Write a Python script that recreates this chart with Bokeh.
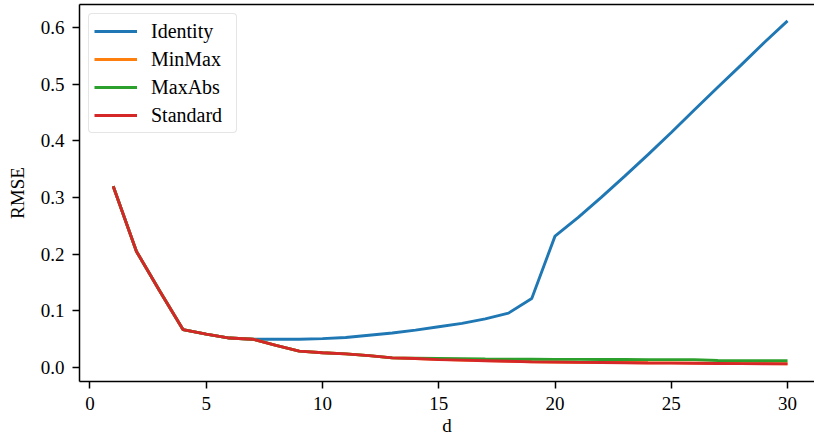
from bokeh.plotting import figure
from bokeh.models import (FixedTicker, LinearAxis, Range1d, Legend, LegendItem,
                          PrintfTickFormatter)
from bokeh.embed import file_html
from bokeh.resources import INLINE

# RMSE per input dimension d for each feature-scaling method
d = list(range(1, 31))
identity = [0.320, 0.205, 0.135, 0.067, 0.059, 0.052, 0.050, 0.050, 0.050, 0.051,
            0.053, 0.057, 0.061, 0.066, 0.072, 0.078, 0.086, 0.096, 0.122, 0.232,
            0.265, 0.301, 0.338, 0.376, 0.415, 0.455, 0.495, 0.534, 0.574, 0.612]
minmax = [0.320, 0.205, 0.135, 0.067, 0.059, 0.052, 0.050, 0.039, 0.029, 0.026,
          0.024, 0.021, 0.017, 0.016, 0.0145, 0.0133, 0.0123, 0.0113, 0.0103, 0.0098,
          0.0093, 0.0091, 0.0088, 0.0083, 0.0081, 0.0078, 0.0075, 0.0071, 0.0069, 0.0067]
maxabs = [0.320, 0.205, 0.135, 0.067, 0.059, 0.052, 0.050, 0.039, 0.029, 0.026,
          0.024, 0.021, 0.017, 0.0165, 0.016, 0.0155, 0.015, 0.0148, 0.0146, 0.0144,
          0.0143, 0.0142, 0.0141, 0.0140, 0.0140, 0.0140, 0.0125, 0.0120, 0.0120, 0.0120]
standard = [0.320, 0.205, 0.135, 0.067, 0.059, 0.052, 0.050, 0.039, 0.029, 0.026,
            0.024, 0.021, 0.017, 0.016, 0.014, 0.013, 0.012, 0.011, 0.010, 0.0095,
            0.009, 0.0088, 0.0085, 0.008, 0.0078, 0.0075, 0.0072, 0.0068, 0.0066, 0.0064]

series = [("Identity", identity, "#1f77b4"),
          ("MinMax", minmax, "#ff7f0e"),
          ("MaxAbs", maxabs, "#2ca02c"),
          ("Standard", standard, "#d62728")]

x_ticks = [0, 5, 10, 15, 20, 25, 30]
y_ticks = [0.0, 0.1, 0.2, 0.3, 0.4, 0.5, 0.6]

FONT = "Liberation Serif"
FS = "19px"
INK = "#000000"

p = figure(width=814, height=438, output_backend="svg", toolbar_location=None,
           x_range=Range1d(-0.45, 31.16), y_range=Range1d(-0.0247, 0.641),
           min_border_left=79, min_border_right=0, min_border_top=4,
           min_border_bottom=57, x_axis_label="d", y_axis_label="RMSE")
p.grid.visible = False
p.outline_line_color = None
p.background_fill_color = "white"
p.border_fill_color = "white"

for ax, ticks in ((p.xaxis[0], x_ticks), (p.yaxis[0], y_ticks)):
    ax.ticker = FixedTicker(ticks=ticks)
    ax.axis_line_width = 1.5
    ax.axis_line_color = INK
    ax.major_tick_line_width = 1.5
    ax.major_tick_line_color = INK
    ax.major_tick_in = 0
    ax.major_tick_out = 7
    ax.minor_tick_line_color = None
    ax.major_label_text_font = FONT
    ax.major_label_text_font_size = FS
    ax.major_label_text_color = INK
    ax.axis_label_text_font = FONT
    ax.axis_label_text_font_size = FS
    ax.axis_label_text_font_style = "normal"
    ax.axis_label_text_color = INK

p.yaxis[0].formatter = PrintfTickFormatter(format="%.1f")
p.xaxis[0].major_label_standoff = 8
p.xaxis[0].axis_label_standoff = 2
p.yaxis[0].major_label_standoff = 8
p.yaxis[0].axis_label_standoff = 10

# top spine only (the right edge of the frame lies outside the page)
top = LinearAxis(ticker=FixedTicker(ticks=[]), axis_line_width=1.5, axis_line_color=INK,
                 major_tick_line_color=None, minor_tick_line_color=None,
                 major_label_text_font_size="0px", major_label_standoff=0,
                 major_tick_out=0, major_tick_in=0)
p.add_layout(top, "above")

items = []
for name, ys, color in series:
    r = p.line(d, ys, line_color=color, line_width=2.9)
    items.append(LegendItem(label=name, renderers=[r]))

legend = Legend(items=items, location="top_left", margin=9, padding=5, spacing=4,
                glyph_width=43, glyph_height=24, label_height=24, label_width=80,
                label_standoff=14, label_text_font=FONT, label_text_font_size="20px",
                label_text_color=INK, border_line_color="#cccccc",
                border_line_width=1.5, background_fill_color="white",
                background_fill_alpha=0.8)
if "border_radius" in legend.properties():
    legend.border_radius = 4
p.add_layout(legend, "center")

open("out.html", "w").write(file_html(p, INLINE))
